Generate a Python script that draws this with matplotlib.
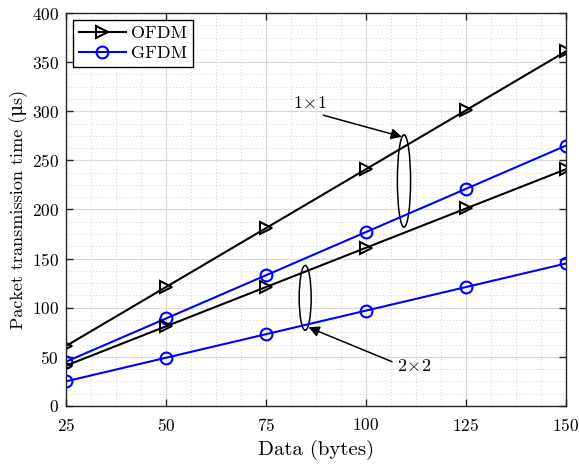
import matplotlib
matplotlib.use("Agg")
import matplotlib.pyplot as plt
from matplotlib.patches import Ellipse
from matplotlib.ticker import MultipleLocator

plt.rcParams['font.family'] = ['cmr10', 'DejaVu Serif']
plt.rcParams['mathtext.fontset'] = 'cm'
plt.rcParams['axes.formatter.use_mathtext'] = True

data_bytes = [25, 50, 75, 100, 125, 150]
ofdm_1x1 = [61, 121, 181, 241, 301, 361]
gfdm_1x1 = [45, 89, 133, 177, 221, 265]
ofdm_2x2 = [41, 81, 121, 161, 201, 241]
gfdm_2x2 = [25, 49, 73, 97, 121, 145]

fig = plt.figure(figsize=(5.79, 4.66), dpi=100)
ax = fig.add_axes([0.114, 0.129, 0.8635, 0.843])

kw = dict(lw=1.5, ms=8.5, mfc='none', mew=1.5)
l1, = ax.plot(data_bytes, ofdm_1x1, '->', color='black', **kw)
l2, = ax.plot(data_bytes, gfdm_1x1, '-o', color='blue', **kw)
ax.plot(data_bytes, ofdm_2x2, '->', color='black', **kw)
ax.plot(data_bytes, gfdm_2x2, '-o', color='blue', **kw)

ax.set_xlim(25, 150)
ax.set_ylim(0, 400)
ax.xaxis.set_major_locator(MultipleLocator(25))
ax.xaxis.set_minor_locator(MultipleLocator(6.25))
ax.yaxis.set_major_locator(MultipleLocator(50))
ax.yaxis.set_minor_locator(MultipleLocator(12.5))
ax.grid(True, which='major', color='#d9d9d9', lw=0.8, ls='-')
ax.grid(True, which='minor', color='#bfbfbf', lw=0.6, ls=(0, (1, 3)))
ax.set_axisbelow(True)
ax.tick_params(which='both', direction='in', top=True, right=True, labelsize=12.5, color='#262626')
ax.tick_params(axis='x', which='major', pad=8)
ax.tick_params(axis='y', which='major', pad=5)
ax.tick_params(which='major', length=5, width=1)
ax.tick_params(which='minor', length=0)
for s in ax.spines.values():
    s.set_linewidth(1.0)
    s.set_color('#262626')

ax.set_xlabel('Data (bytes)', fontsize=15, labelpad=4)
ax.set_ylabel('Packet transmission time (μs)', fontsize=13, labelpad=3)

leg = ax.legend([l1, l2], ['OFDM', 'GFDM'], loc='upper left', fontsize=13,
                fancybox=False, edgecolor='black', framealpha=1,
                borderaxespad=0.4, handlelength=2.6, borderpad=0.3, labelspacing=0.25,
                handletextpad=0.3)
leg.get_frame().set_linewidth(1.0)

ax.add_patch(Ellipse((109.5, 229), 3.3, 94, fill=False, ec='black', lw=1.1))
ax.add_patch(Ellipse((84.8, 110), 3.0, 66, fill=False, ec='black', lw=1.1))

arrow_kw = dict(arrowstyle='-|>', color='black', lw=1.1,
                shrinkA=0, shrinkB=0, mutation_scale=16)
ax.annotate('', xy=(109.0, 274), xytext=(89.3, 296), arrowprops=arrow_kw)
ax.text(86, 308, r'$1\!\times\!1$', fontsize=13, ha='center', va='center')
ax.annotate('', xy=(85.6, 80), xytext=(106.5, 45), arrowprops=arrow_kw)
ax.text(112, 41, r'$2\!\times\!2$', fontsize=13, ha='center', va='center')

fig.savefig('out.png', dpi=100)
